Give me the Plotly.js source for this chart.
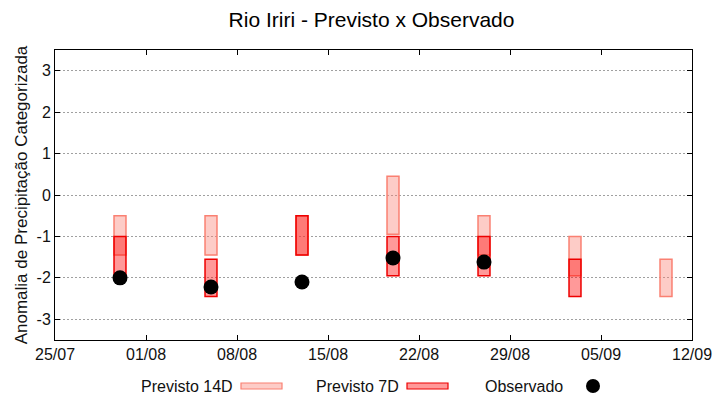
<!DOCTYPE html>
<html><head><meta charset="utf-8">
<script src="https://cdn.plot.ly/plotly-3.0.1.min.js"></script>
<style>html,body{margin:0;padding:0;background:#fff}#chart{width:720px;height:400px}</style>
</head><body><div id="chart"></div>
<script>
var dates = ['2024-07-30','2024-08-06','2024-08-13','2024-08-20','2024-08-27','2024-09-03','2024-09-10'];
var p14Top = [-0.5, -0.5, -0.5, 0.45, -0.5, -1.0, -1.55];
var p14Bot = [-1.45, -1.45, -1.45, -0.95, -1.45, -1.95, -2.45];
var p7Top = [-1.0, -1.55, -0.5, -1.0, -1.0, -1.55, null];
var p7Bot = [-1.95, -2.45, -1.45, -1.95, -1.95, -2.45, null];
var obs = [-2.0, -2.22, -2.1, -1.52, -1.62, null, null];
var yTickVals = [-3, -2, -1, 0, 1, 2, 3];
var yTickText = ['-3', '-2', '-1', '0', '1', '2', '3'];
var xTick0 = '2024-07-25';
var xRange = ['2024-07-25', '2024-09-12'];

var DAY = 86400000;
function heights(top, bot){ return top.map(function(t,i){ return (t===null||bot[i]===null)?null:(t-bot[i]); }); }

var traces = [
  {type:'bar', name:'Previsto 14D', x:dates, base:p14Bot, y:heights(p14Top,p14Bot), width:0.92*DAY,
   marker:{color:'rgba(250,128,114,0.4)', line:{color:'#FA8072', width:1.5}}, showlegend:false, hoverinfo:'skip'},
  {type:'bar', name:'Previsto 7D', x:dates, base:p7Bot, y:heights(p7Top,p7Bot), width:0.92*DAY,
   marker:{color:'rgba(255,0,0,0.4)', line:{color:'#EE0000', width:1.5}}, showlegend:false, hoverinfo:'skip'},
  {type:'scatter', mode:'markers', name:'Observado', x:dates, y:obs,
   marker:{color:'#000', size:15}, showlegend:false, hoverinfo:'skip'}
];

var F = 'Liberation Sans, Arial, sans-serif';
function px(x){ return (x-55)/637; }
function py(y){ return (340-y)/290; }

var layout = {
  width:720, height:400,
  margin:{l:55, r:28, t:50, b:60},
  paper_bgcolor:'#fff', plot_bgcolor:'#fff',
  font:{family:F, size:16, color:'#111'},
  barmode:'overlay', bargap:0,
  title:{text:'Rio Iriri - Previsto x Observado', font:{family:F, size:21, color:'#000'}, x:0.516, xanchor:'center', y:0.952, yanchor:'middle', yref:'container'},
  xaxis:{type:'date', range:xRange, tick0:xTick0, dtick:7*DAY, tickformat:'%d/%m',
    ticks:'inside', ticklen:5, tickcolor:'#000', showline:true, linecolor:'#000', linewidth:1, mirror:'allticks',
    showgrid:false, zeroline:false, tickfont:{family:F, size:16, color:'#111'}},
  yaxis:{range:[-3.5, 3.5], tickvals:yTickVals, ticktext:yTickText,
    ticks:'inside', ticklen:5, tickcolor:'#000', showline:true, linecolor:'#000', linewidth:1, mirror:'allticks',
    showgrid:true, gridcolor:'#a0a0a0', griddash:'2px,2px', gridwidth:1, zeroline:false,
    tickfont:{family:F, size:16, color:'#111'},
    title:{text:'Anomalia de Precipitação Categorizada', font:{family:F, size:17, color:'#111'}, standoff:4}},
  annotations:[
    {xref:'paper', yref:'paper', x:px(235), y:py(386), xanchor:'right', yanchor:'middle', text:'Previsto 14D', showarrow:false, font:{family:F, size:16, color:'#111'}},
    {xref:'paper', yref:'paper', x:px(401), y:py(386), xanchor:'right', yanchor:'middle', text:'Previsto 7D', showarrow:false, font:{family:F, size:16, color:'#111'}},
    {xref:'paper', yref:'paper', x:px(565), y:py(386), xanchor:'right', yanchor:'middle', text:'Observado', showarrow:false, font:{family:F, size:16, color:'#111'}}
  ],
  shapes:[
    {type:'rect', xref:'paper', yref:'paper', x0:px(241), x1:px(282), y0:py(389), y1:py(383), fillcolor:'rgba(250,128,114,0.4)', line:{color:'#FA8072', width:1.2}},
    {type:'rect', xref:'paper', yref:'paper', x0:px(407), x1:px(448), y0:py(389), y1:py(383), fillcolor:'rgba(255,0,0,0.4)', line:{color:'#EE0000', width:1.2}},
    {type:'circle', xref:'paper', yref:'paper', x0:px(586), x1:px(600), y0:py(393), y1:py(379), fillcolor:'#000', line:{color:'#000', width:0}}
  ]
};
Plotly.newPlot('chart', traces, layout, {displayModeBar:false, staticPlot:true});
</script>
</body></html>
